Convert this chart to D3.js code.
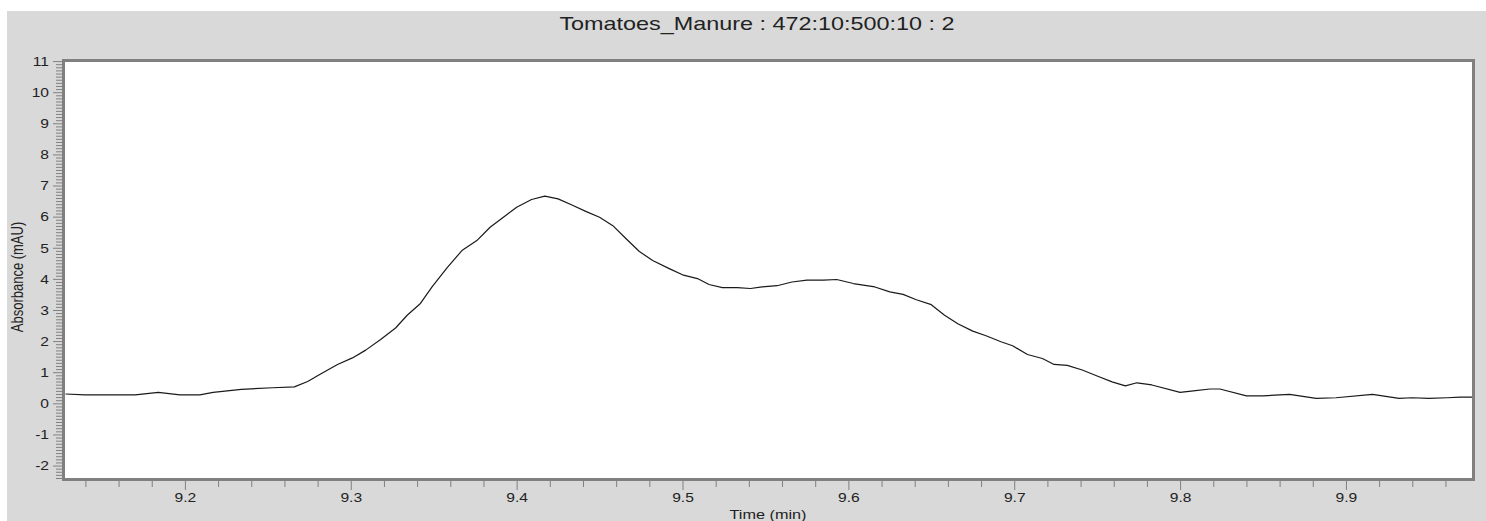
<!DOCTYPE html>
<html>
<head>
<meta charset="utf-8">
<script src="https://cdn.jsdelivr.net/npm/d3@7"></script>
<style>
  html, body { margin: 0; padding: 0; background: #ffffff; }
  svg { display: block; }
  text { font-family: "Liberation Sans", Arial, sans-serif; fill: #222; }
</style>
</head>
<body>
<svg id="chart" width="1486" height="521"></svg>
<script>
// Chromatogram trace: retention time (min) and absorbance (mAU)
const timeMin = [
  9.128, 9.140, 9.170, 9.184, 9.197, 9.209, 9.217, 9.234, 9.253, 9.266,
  9.274, 9.281, 9.292, 9.301, 9.309, 9.318, 9.327, 9.334, 9.342, 9.349,
  9.358, 9.367, 9.376, 9.384, 9.392, 9.400, 9.409, 9.417, 9.425, 9.434,
  9.442, 9.450, 9.458, 9.466, 9.474, 9.482, 9.492, 9.500, 9.509, 9.516,
  9.524, 9.533, 9.541, 9.548, 9.557, 9.566, 9.575, 9.585, 9.593, 9.603,
  9.616, 9.625, 9.633, 9.641, 9.650, 9.658, 9.666, 9.675, 9.683, 9.692,
  9.699, 9.708, 9.717, 9.724, 9.732, 9.741, 9.750, 9.759, 9.767, 9.774,
  9.783, 9.800, 9.808, 9.818, 9.824, 9.840, 9.850, 9.866, 9.882, 9.894,
  9.916, 9.932, 9.940, 9.950, 9.961, 9.969, 9.976
];
const absorbance = [
  0.30, 0.27, 0.27, 0.35, 0.27, 0.27, 0.35, 0.45, 0.50, 0.53,
  0.70, 0.92, 1.25, 1.46, 1.71, 2.05, 2.42, 2.83, 3.21, 3.74,
  4.35, 4.91, 5.23, 5.66, 5.98, 6.30, 6.55, 6.66, 6.57, 6.36,
  6.16, 5.98, 5.71, 5.29, 4.88, 4.59, 4.33, 4.13, 4.01, 3.82,
  3.72, 3.72, 3.69, 3.74, 3.78, 3.90, 3.96, 3.96, 3.98, 3.85,
  3.74, 3.58, 3.50, 3.33, 3.17, 2.83, 2.56, 2.32, 2.17, 1.98,
  1.85, 1.57, 1.44, 1.25, 1.22, 1.07, 0.88, 0.69, 0.56, 0.66,
  0.59, 0.35, 0.40, 0.46, 0.46, 0.24, 0.24, 0.29, 0.16, 0.18,
  0.29, 0.16, 0.18, 0.16, 0.18, 0.20, 0.20
];

// Axis extents and tick labels
const timeDomain = [9.1277, 9.976];
const absDomain = [-2.40, 10.97];
const xTickLabels = [9.2, 9.3, 9.4, 9.5, 9.6, 9.7, 9.8, 9.9];
const yTickLabels = [-2, -1, 0, 1, 2, 3, 4, 5, 6, 7, 8, 9, 10, 11];
const xMinorStep = 0.02;
const yMinorStep = 0.1;

const titleText = "Tomatoes_Manure : 472:10:500:10 : 2";
const xTitle = "Time (min)";
const yTitle = "Absorbance (mAU)";

const svg = d3.select("#chart");
const W = 1486, H = 521;
const plot = { left: 65, top: 62, right: 1472, bottom: 478 };
const stretch = 1.3;   // horizontal text stretch of the instrument software
const frameColor = "#808080";

// Panel background
svg.append("rect")
  .attr("x", 7).attr("y", 11)
  .attr("width", W - 7).attr("height", H - 11)
  .attr("fill", "#d9d9d9");

// Plot area
svg.append("rect")
  .attr("x", plot.left).attr("y", plot.top)
  .attr("width", plot.right - plot.left).attr("height", plot.bottom - plot.top)
  .attr("fill", "#ffffff");

const x = d3.scaleLinear().domain(timeDomain).range([plot.left, plot.right]);
const y = d3.scaleLinear().domain(absDomain).range([plot.bottom, plot.top]);

// Minor ticks
const xMinor = d3.range(Math.ceil(timeDomain[0] / xMinorStep) * xMinorStep, timeDomain[1], xMinorStep)
  .filter(v => !xTickLabels.some(t => Math.abs(t - v) < 1e-6));
const yMinor = d3.range(-2.4, 11.0001, yMinorStep)
  .map(v => Math.round(v * 10) / 10)
  .filter(v => v >= absDomain[0] && v <= 11 && !yTickLabels.includes(v));

const gxMinor = svg.append("g")
  .attr("transform", `translate(0,${plot.bottom + 3})`)
  .call(d3.axisBottom(x).tickValues(xMinor).tickSize(6).tickFormat(""));
const gx = svg.append("g")
  .attr("transform", `translate(0,${plot.bottom + 3})`)
  .call(d3.axisBottom(x).tickValues(xTickLabels).tickSize(9).tickFormat(d => d.toFixed(1)));

const gyMinor = svg.append("g")
  .attr("transform", `translate(${plot.left - 3},0)`)
  .call(d3.axisLeft(y).tickValues(yMinor).tickSize(6).tickFormat(""));
const gy = svg.append("g")
  .attr("transform", `translate(${plot.left - 3},0)`)
  .call(d3.axisLeft(y).tickValues(yTickLabels).tickSize(9).tickFormat(d => String(d)));

[gxMinor, gx, gyMinor, gy].forEach(g => {
  g.select(".domain").remove();
  g.selectAll(".tick line").attr("stroke", frameColor).attr("stroke-width", 1);
});

gx.selectAll(".tick text")
  .attr("y", 21).attr("dy", 0)
  .attr("transform", `scale(${stretch},1)`)
  .style("font-size", "12px")
  .attr("fill", "#222");

gy.selectAll(".tick text")
  .attr("x", -13 / stretch).attr("dy", "0.36em")
  .attr("transform", `scale(${stretch},1)`)
  .style("font-size", "12px")
  .attr("fill", "#222");

// Frame around the plot
svg.append("rect")
  .attr("x", plot.left - 1.5).attr("y", plot.top - 1.5)
  .attr("width", plot.right - plot.left + 3).attr("height", plot.bottom - plot.top + 3)
  .attr("fill", "none")
  .attr("stroke", frameColor)
  .attr("stroke-width", 3);

// Trace
const points = timeMin.map((t, i) => [t, absorbance[i]]);
const line = d3.line().x(d => x(d[0])).y(d => y(d[1]));
svg.append("path")
  .datum(points)
  .attr("d", line)
  .attr("fill", "none")
  .attr("stroke", "#1a1a1a")
  .attr("stroke-width", 1.2)
  .attr("stroke-linejoin", "round");

// Titles
svg.append("text")
  .attr("transform", `translate(757,30) scale(${stretch},1)`)
  .attr("text-anchor", "middle")
  .style("font-size", "18px")
  .text(titleText);

svg.append("text")
  .attr("transform", `translate(768,519) scale(${stretch},1)`)
  .attr("text-anchor", "middle")
  .style("font-size", "12.5px")
  .text(xTitle);

svg.append("text")
  .attr("transform", `translate(23,277) scale(${stretch},1) rotate(-90)`)
  .attr("text-anchor", "middle")
  .style("font-size", "13px")
  .text(yTitle);
</script>
</body>
</html>
